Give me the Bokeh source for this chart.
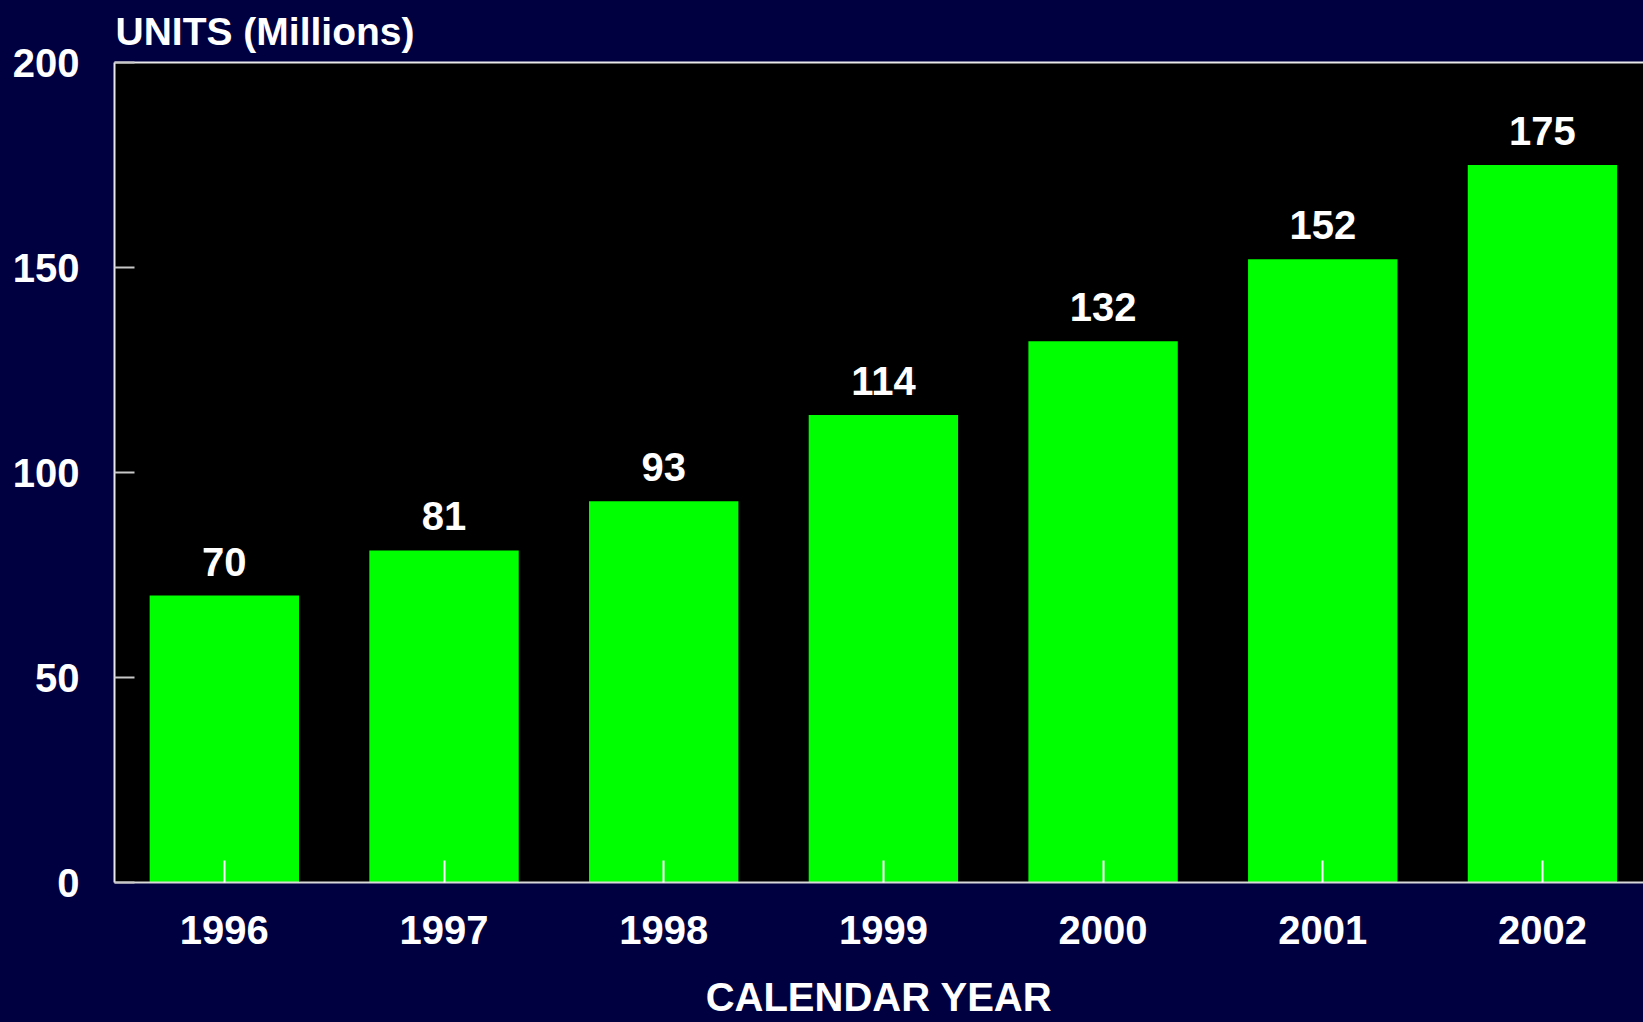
from bokeh.plotting import figure
from bokeh.models import (Range1d, FixedTicker, LinearAxis, ColumnDataSource,
                          GlobalInlineStyleSheet)
from bokeh.embed import file_html
from bokeh.resources import INLINE
from bokeh.core.properties import value

# ---- data ----
years = ["1996", "1997", "1998", "1999", "2000", "2001", "2002"]
units = [70, 81, 93, 114, 132, 152, 175]
y_ticks = [0, 50, 100, 150, 200]
y_title = "UNITS (Millions)"
x_title = "CALENDAR YEAR"

NAVY = "#000040"
FONT = "Liberation Sans"
FS = "40px"

xs = [i + 0.5 for i in range(len(years))]
src = ColumnDataSource(dict(x=xs, top=units, label=[str(u) for u in units]))

p = figure(width=1643, height=1022, output_backend="svg", toolbar_location=None,
           x_range=Range1d(0, 6.96), y_range=Range1d(0, 200),
           background_fill_color="black", border_fill_color=NAVY,
           min_border_left=114, min_border_top=62, min_border_bottom=140,
           min_border_right=0)
p.outline_line_color = None
p.grid.visible = False
p.stylesheets = [GlobalInlineStyleSheet(css="html, body { background-color: %s; }" % NAVY)]

# title (top-left, horizontal y-axis caption)
p.title.text = y_title
p.title.align = "left"
p.title.vertical_align = "top"
p.title.text_color = "white"
p.title.text_font = FONT
p.title.text_font_style = "bold"
p.title.text_font_size = "39px"
p.title.standoff = 16
p.title.offset = 1

p.vbar(x="x", top="top", bottom=0, width=0.68, source=src,
       fill_color="#00ff00", line_color=None)
p.text(x="x", y="top", text="label", source=src, y_offset=-34,
       text_align="center", text_baseline="alphabetic", text_color="white",
       text_font=value(FONT), text_font_style="bold", text_font_size=FS)

# x axis
xa = p.xaxis[0]
xa.ticker = FixedTicker(ticks=xs)
xa.major_label_overrides = {x: y for x, y in zip(xs, years)}
xa.axis_line_color = "#d8d8d8"
xa.axis_line_width = 2
xa.major_tick_in = 22
xa.major_tick_out = 0
xa.major_tick_line_color = "white"
xa.major_tick_line_width = 2
xa.minor_tick_line_color = None
xa.major_label_standoff = 33
xa.major_label_text_color = "white"
xa.major_label_text_font = FONT
xa.major_label_text_font_style = "bold"
xa.major_label_text_font_size = FS
xa.axis_label = x_title
xa.axis_label_standoff = 28
xa.axis_label_text_color = "white"
xa.axis_label_text_font = FONT
xa.axis_label_text_font_style = "bold"
xa.axis_label_text_font_size = FS

# y axis
ya = p.yaxis[0]
ya.ticker = FixedTicker(ticks=y_ticks)
ya.axis_line_color = "#e8e8e8"
ya.axis_line_width = 2
ya.major_tick_in = 20
ya.major_tick_out = 0
ya.major_tick_line_color = "#c8c8c8"
ya.major_tick_line_width = 2
ya.minor_tick_line_color = None
ya.major_label_standoff = 35
ya.major_label_text_color = "white"
ya.major_label_text_font = FONT
ya.major_label_text_font_style = "bold"
ya.major_label_text_font_size = FS

# top border line
top_ax = LinearAxis(ticker=FixedTicker(ticks=[]), axis_line_color="#e8e8e8",
                    axis_line_width=2, major_tick_in=0, major_tick_out=0,
                    minor_tick_line_color=None, major_label_standoff=0,
                    major_label_text_font_size="0px")
p.add_layout(top_ax, "above")

open("out.html", "w").write(file_html(p, INLINE))
